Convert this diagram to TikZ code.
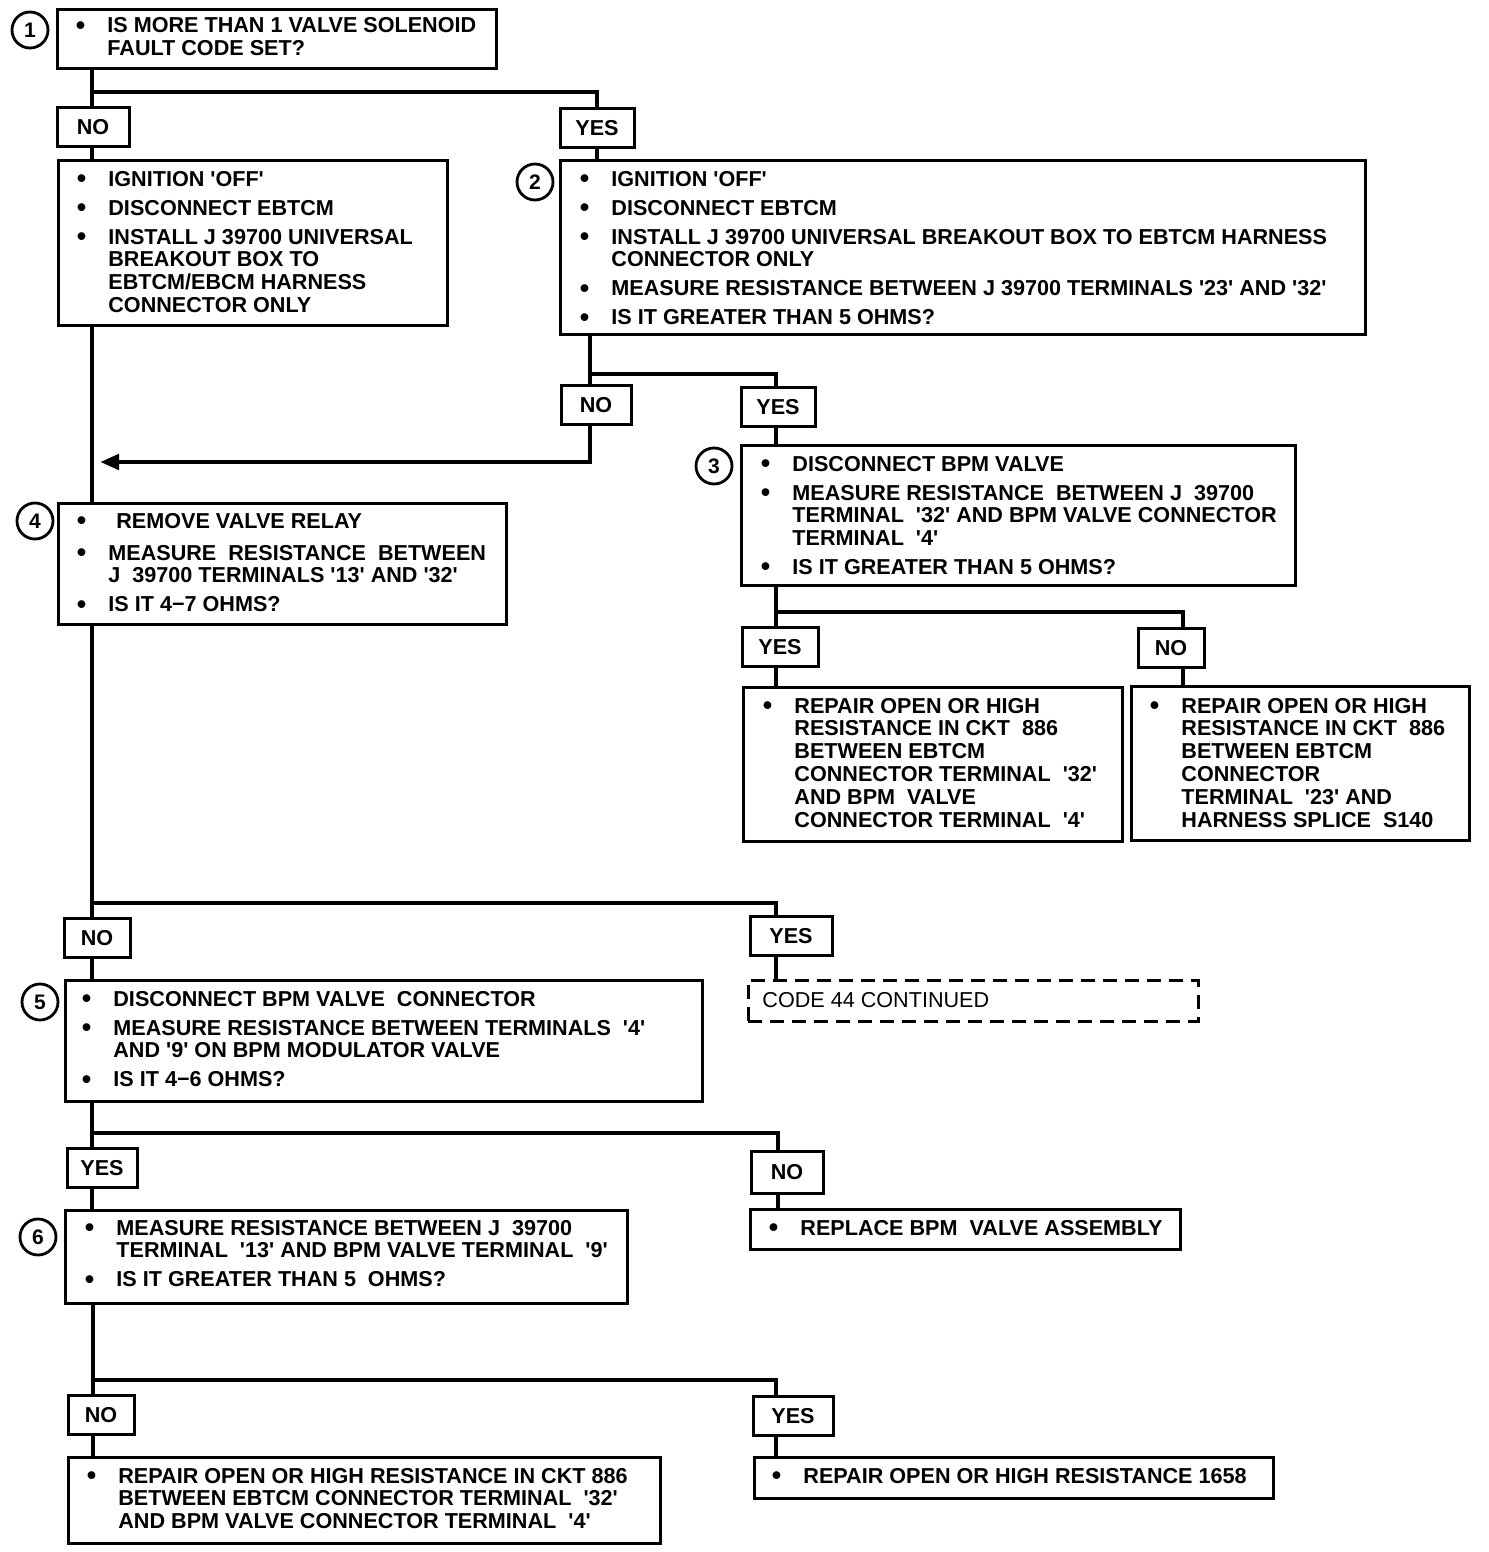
\documentclass[tikz,border=0pt]{standalone}
\usepackage{fontspec}
\setmainfont{Liberation Sans}
\usetikzlibrary{arrows.meta,calc}
\pgfdeclarelayer{bg}
\pgfsetlayers{bg,main}
\newcommand\bx[6][]{\node[box,#1,anchor=north west,minimum width={(#5-#3)*0.5pt},minimum height={(#6-#4)*0.5pt}] (#2) at (#3,#4) {};}
\newcommand\bu{\llap{\raisebox{-0.6pt}{\fontsize{13.5}{13.5}\selectfont\textbullet}\hspace{11pt}}}
\newcommand\q{\textquotesingle}
\newcommand\gp{\\[3.1pt]}
\newenvironment{lines}{\begin{tabular}[t]{@{}l@{}}}{\end{tabular}}
\tikzset{
 box/.style={draw, line width=1.5pt, rectangle, inner sep=0pt, outer sep=0pt, fill=white},
 lbl/.style={draw, line width=1.5pt, fill=white, inner sep=0pt, minimum height=19.5pt, font=\bfseries\fontsize{10.8}{12}\selectfont},
 num/.style={draw, circle, line width=1.4pt, minimum size=18pt, inner sep=0pt, fill=white, font=\bfseries\fontsize{10.5}{12}\selectfont},
 txt/.style={anchor=base west, inner sep=0pt, font=\bfseries\fontsize{10.8}{11.4}\selectfont},
 conn/.style={line width=2.3pt},
 dashbox/.style={draw, line width=1.5pt, dash pattern=on 7pt off 4pt, rectangle, inner sep=0pt, fill=white},
}
\begin{document}
\begin{tikzpicture}[x=0.5pt,y=-0.5pt]
\useasboundingbox (0,0) rectangle (1488,1552);
% ---------- boxes ----------
\bx{b1}{57}{10}{496}{69}
\bx{bA}{58}{160}{447}{325}
\bx{b2}{560}{160}{1365}{334}
\bx{b3}{741}{445}{1295}{585}
\bx{r3y}{743}{687}{1122}{841}
\bx{r3n}{1131}{686}{1469}{840}
\bx{b4}{58}{503}{506}{624}
\bx[dashbox]{dsh}{748}{980}{1198}{1021}
\bx{b5}{65}{980}{702}{1101}
\bx{b6}{65}{1210}{627}{1303}
\bx{r5n}{750}{1209}{1180}{1249}
\bx{r6n}{68}{1457}{660}{1543}
\bx{r6y}{754}{1457}{1273}{1498}
% ---------- step numbers ----------
\node[num] (c1) at (30,30) {1};
\node[num] (c2) at (535,182) {2};
\node[num] (c3) at (714,466) {3};
\node[num] (c4) at (35,521) {4};
\node[num] (c5) at (40,1002) {5};
\node[num] (c6) at (38,1237) {6};
% ---------- labels ----------
\node[lbl, minimum width=36pt] (no1) at (93,127) {NO};
\node[lbl, minimum width=37pt] (yes1) at (597,128) {YES};
\node[lbl, minimum width=35pt] (no2) at (596,405) {NO};
\node[lbl, minimum width=37pt] (yes2) at (778,407) {YES};
\node[lbl, minimum width=38pt] (yes3) at (780,647) {YES};
\node[lbl, minimum width=33pt] (no3) at (1171,648) {NO};
\node[lbl, minimum width=33pt] (no4) at (97,938) {NO};
\node[lbl, minimum width=41pt] (yes4) at (791,936) {YES};
\node[lbl, minimum width=35pt] (yes5) at (102,1168) {YES};
\node[lbl, minimum width=36pt, minimum height=21pt] (no5) at (787,1172) {NO};
\node[lbl, minimum width=33pt] (no6) at (101,1415) {NO};
\node[lbl, minimum width=40pt] (yes6) at (793,1416) {YES};
% ---------- texts ----------
\node[txt] (t1) at (107,33) {\begin{lines}\bu IS MORE THAN 1 VALVE SOLENOID\\ FAULT CODE SET?\end{lines}};
\node[txt] (tA) at (108,186) {\begin{lines}\bu IGNITION \q OFF\q\gp \bu DISCONNECT EBTCM\gp \bu INSTALL J 39700 UNIVERSAL\\ BREAKOUT BOX TO\\ EBTCM/EBCM HARNESS\\ CONNECTOR ONLY\end{lines}};
\node[txt] (t2) at (611,186) {\begin{lines}\bu IGNITION \q OFF\q\gp \bu DISCONNECT EBTCM\gp \bu INSTALL J 39700 UNIVERSAL BREAKOUT BOX TO EBTCM HARNESS\\ CONNECTOR ONLY\gp \bu MEASURE RESISTANCE BETWEEN J 39700 TERMINALS \q 23\q{} AND \q 32\q\gp \bu IS IT GREATER THAN 5 OHMS?\end{lines}};
\node[txt] (t3) at (792,471) {\begin{lines}\bu DISCONNECT BPM VALVE\gp \bu MEASURE RESISTANCE~ BETWEEN J~ 39700\\ TERMINAL~ \q 32\q{} AND BPM VALVE CONNECTOR\\ TERMINAL~ \q 4\q\gp \bu IS IT GREATER THAN 5 OHMS?\end{lines}};
\node[txt] (t3y) at (794,713) {\begin{lines}\bu REPAIR OPEN OR HIGH\\ RESISTANCE IN CKT~ 886\\ BETWEEN EBTCM\\ CONNECTOR TERMINAL~ \q 32\q\\ AND BPM~ VALVE\\ CONNECTOR TERMINAL~ \q 4\q\end{lines}};
\node[txt] (t3n) at (1181,713) {\begin{lines}\bu REPAIR OPEN OR HIGH\\ RESISTANCE IN CKT~ 886\\ BETWEEN EBTCM\\ CONNECTOR\\ TERMINAL~ \q 23\q{} AND\\ HARNESS SPLICE~ S140\end{lines}};
\node[txt] (t4) at (108,528) {\begin{lines}\bu \hspace{4pt}REMOVE VALVE RELAY\\[4.6pt] \bu MEASURE~ RESISTANCE~ BETWEEN\\ J~ 39700 TERMINALS \q 13\q{} AND \q 32\q\gp \bu IS IT 4−7 OHMS?\end{lines}};
\node[font=\fontsize{10.8}{12}\selectfont, anchor=base west, inner sep=0pt] (tdsh) at (762,1007) {CODE 44 CONTINUED};
\node[txt] (t5) at (113,1006) {\begin{lines}\bu DISCONNECT BPM VALVE~ CONNECTOR\gp \bu MEASURE RESISTANCE BETWEEN TERMINALS~ \q 4\q\\ AND \q 9\q{} ON BPM MODULATOR VALVE\gp \bu IS IT 4−6 OHMS?\end{lines}};
\node[txt] (t6) at (116,1235) {\begin{lines}\bu MEASURE RESISTANCE BETWEEN J~ 39700\\ TERMINAL~ \q 13\q{} AND BPM VALVE TERMINAL~ \q 9\q\gp \bu IS IT GREATER THAN 5~ OHMS?\end{lines}};
\node[txt] (t5n) at (800,1235) {\begin{lines}\bu REPLACE BPM~ VALVE ASSEMBLY\end{lines}};
\node[txt] (t6n) at (118,1483) {\begin{lines}\bu REPAIR OPEN OR HIGH RESISTANCE IN CKT 886\\ BETWEEN EBTCM CONNECTOR TERMINAL~ \q 32\q\\ AND BPM VALVE CONNECTOR TERMINAL~ \q 4\q\end{lines}};
\node[txt] (t6y) at (803,1483) {\begin{lines}\bu REPAIR OPEN OR HIGH RESISTANCE 1658\end{lines}};
% ---------- connectors ----------
\begin{pgfonlayer}{bg}
\coordinate (j1) at (92,92);
\draw[conn] (j1 |- b1.south) -- (j1) -| (yes1.north);
\draw[conn] (j1) -- (j1 |- no1.north);
\draw[conn] (j1 |- no1.south) -- (j1 |- bA.north);
\draw[conn] (yes1.south) -- (yes1.south |- b2.north);
\draw[conn] (j1 |- bA.south) -- (j1 |- b4.north);
% step 2
\coordinate (j2) at (590,374);
\coordinate (m2) at (776,374);
\draw[conn] (j2 |- b2.south) -- (j2) -- (m2) -- (m2 |- yes2.north);
\draw[conn] (j2) -- (j2 |- no2.north);
\coordinate (k2) at (590,462);
\coordinate (a2) at (100,462);
\draw[conn, -{Triangle[length=9.5pt,width=7.5pt]}] (j2 |- no2.south) -- (k2) -- (a2);
\draw[conn] (m2 |- yes2.south) -- (m2 |- b3.north);
% step 3
\coordinate (j3) at (776,612);
\coordinate (m3) at (1183,612);
\draw[conn] (j3 |- b3.south) -- (j3) -- (m3) -- (m3 |- no3.north);
\draw[conn] (j3) -- (j3 |- yes3.north);
\draw[conn] (j3 |- yes3.south) -- (j3 |- r3y.north);
\draw[conn] (m3 |- no3.south) -- (m3 |- r3n.north);
% step 4
\coordinate (j4) at (92,903);
\coordinate (m4) at (776,903);
\draw[conn] (j4 |- b4.south) -- (j4) -- (m4) -- (m4 |- yes4.north);
\draw[conn] (j4) -- (j4 |- no4.north);
\draw[conn] (j4 |- no4.south) -- (j4 |- b5.north);
\draw[conn] (m4 |- yes4.south) -- (m4 |- dsh.north);
% step 5
\coordinate (j5) at (92,1133);
\coordinate (m5) at (778,1133);
\draw[conn] (j5 |- b5.south) -- (j5) -- (m5) -- (m5 |- no5.north);
\draw[conn] (j5) -- (j5 |- yes5.north);
\draw[conn] (j5 |- yes5.south) -- (j5 |- b6.north);
\draw[conn] (m5 |- no5.south) -- (m5 |- r5n.north);
% step 6
\coordinate (j6) at (93,1380);
\coordinate (m6) at (776,1380);
\draw[conn] (j6 |- b6.south) -- (j6) -- (m6) -- (m6 |- yes6.north);
\draw[conn] (j6) -- (j6 |- no6.north);
\draw[conn] (j6 |- no6.south) -- (j6 |- r6n.north);
\draw[conn] (m6 |- yes6.south) -- (m6 |- r6y.north);
\end{pgfonlayer}
\end{tikzpicture}
\end{document}
